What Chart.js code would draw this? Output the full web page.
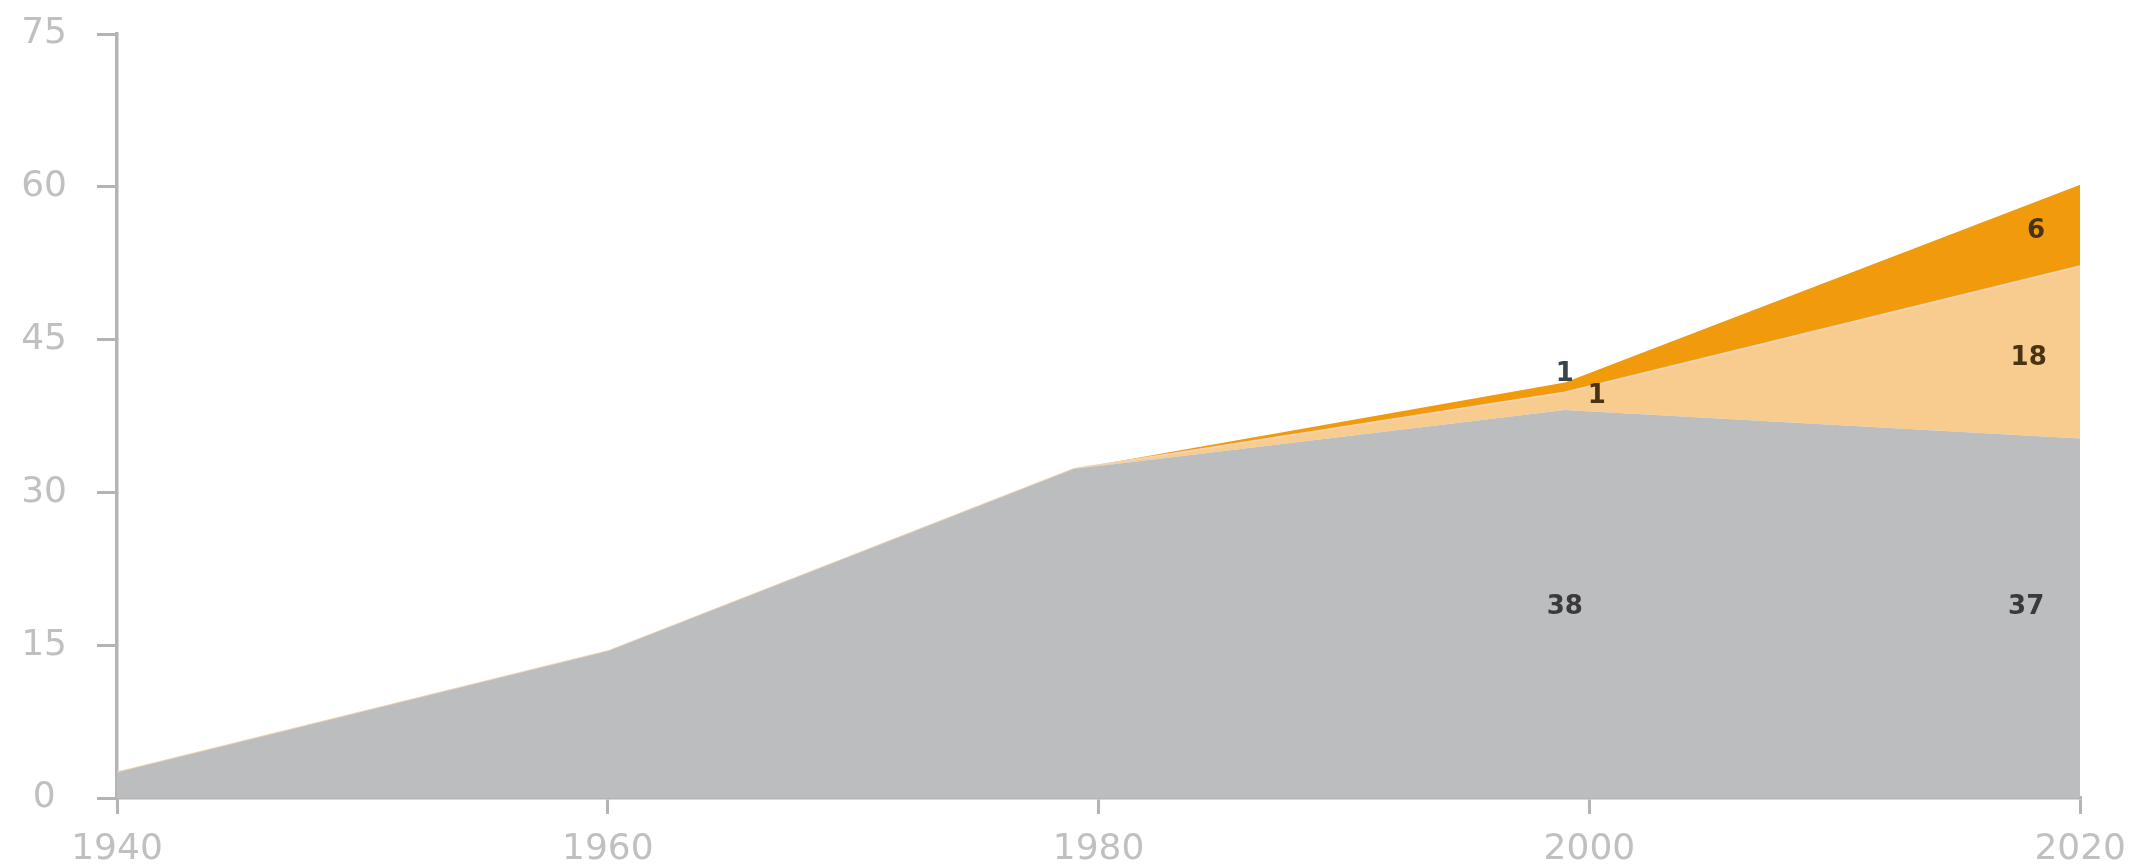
<!DOCTYPE html>
<html>
<head>
<meta charset="utf-8">
<script src="https://cdn.jsdelivr.net/npm/chart.js@4/dist/chart.umd.min.js"></script>
<style>
  html, body { margin: 0; padding: 0; background: #ffffff; }
  #wrap { width: 2144px; height: 867px; }
</style>
</head>
<body>
<div id="wrap"><canvas id="areaChart"></canvas></div>
<script>
// années et valeurs
const years = [1940, 1960, 1979, 1999, 2020];
const greyValues = [2.5, 14.4, 32.3, 38.1, 35.3];
const lightOrangeValues = [0, 0, 0, 1.7, 16.9];
const darkOrangeValues = [0, 0, 0, 1.0, 8.0];

const xTicks = [1940, 1960, 1980, 2000, 2020];
const yTicks = [0, 15, 30, 45, 60, 75];

// étiquettes posées dans les aires
const labelText = ['1', '1', '38', '6', '18', '37'];
const labelYear = [1999.0, 2000.3, 1999.0, 2018.2, 2017.9, 2017.8];
const labelValue = [41.6, 39.4, 18.7, 55.6, 43.2, 18.7];
const labelColor = ['#3b4448', '#4a3312', '#3a3a3c', '#4a3312', '#4a3312', '#3a3a3c'];

const toPoints = (vals) => years.map((y, i) => ({ x: y, y: vals[i] }));

const axisColor = '#b4b4b4';
const tickColor = '#c0c0c0';

const areaLabels = {
    id: 'areaLabels',
    afterDatasetsDraw(chart) {
        const ctx = chart.ctx;
        const xs = chart.scales.x;
        const ys = chart.scales.y;
        ctx.save();
        ctx.font = 'bold 26px "DejaVu Sans"';
        ctx.textAlign = 'center';
        ctx.textBaseline = 'middle';
        for (let i = 0; i < labelText.length; i++) {
            ctx.fillStyle = labelColor[i];
            ctx.fillText(labelText[i], xs.getPixelForValue(labelYear[i]), ys.getPixelForValue(labelValue[i]));
        }
        ctx.restore();
    }
};

new Chart(document.getElementById('areaChart'), {
    type: 'line',
    data: {
        datasets: [
            {
                label: 'gris',
                data: toPoints(greyValues),
                backgroundColor: '#bcbdbf',
                borderColor: '#bcbdbf',
                borderWidth: 0,
                pointRadius: 0,
                fill: 'origin',
                tension: 0
            },
            {
                label: 'orange clair',
                data: toPoints(lightOrangeValues),
                backgroundColor: '#f8cb8e',
                borderColor: '#eed3b4',
                borderWidth: 2,
                pointRadius: 0,
                fill: '-1',
                tension: 0
            },
            {
                label: 'orange foncé',
                data: toPoints(darkOrangeValues),
                backgroundColor: '#f09a0c',
                borderColor: '#f09a0c',
                borderWidth: 0,
                pointRadius: 0,
                fill: '-1',
                tension: 0
            }
        ]
    },
    options: {
        responsive: true,
        maintainAspectRatio: false,
        animation: false,
        layout: { padding: { top: 34, right: 56, left: 0, bottom: 0 } },
        plugins: {
            legend: { display: false },
            tooltip: { enabled: false }
        },
        scales: {
            x: {
                type: 'linear',
                min: 1940,
                max: 2020,
                afterBuildTicks: (scale) => { scale.ticks = xTicks.map(v => ({ value: v })); },
                afterFit: (scale) => { scale.height = 69; },
                grid: { drawOnChartArea: false, drawTicks: true, tickLength: 16, color: axisColor, lineWidth: 3 },
                border: { display: true, color: axisColor, width: 3.5 },
                ticks: {
                    color: tickColor,
                    padding: 18,
                    maxRotation: 0,
                    font: { family: '"DejaVu Sans"', size: 36, lineHeight: 1 },
                    callback: (v) => String(v)
                }
            },
            y: {
                stacked: true,
                min: 0,
                max: 75,
                afterBuildTicks: (scale) => { scale.ticks = yTicks.map(v => ({ value: v })); },
                afterFit: (scale) => { scale.width = 117; },
                grid: { drawOnChartArea: false, drawTicks: true, tickLength: 20, color: axisColor, lineWidth: 3 },
                border: { display: true, color: axisColor, width: 3.5 },
                ticks: {
                    color: tickColor,
                    padding: 30,
                    crossAlign: 'center',
                    font: { family: '"DejaVu Sans"', size: 36, lineHeight: 0.1 },
                    callback: (v) => String(v)
                }
            }
        }
    },
    plugins: [areaLabels]
});
</script>
</body>
</html>
